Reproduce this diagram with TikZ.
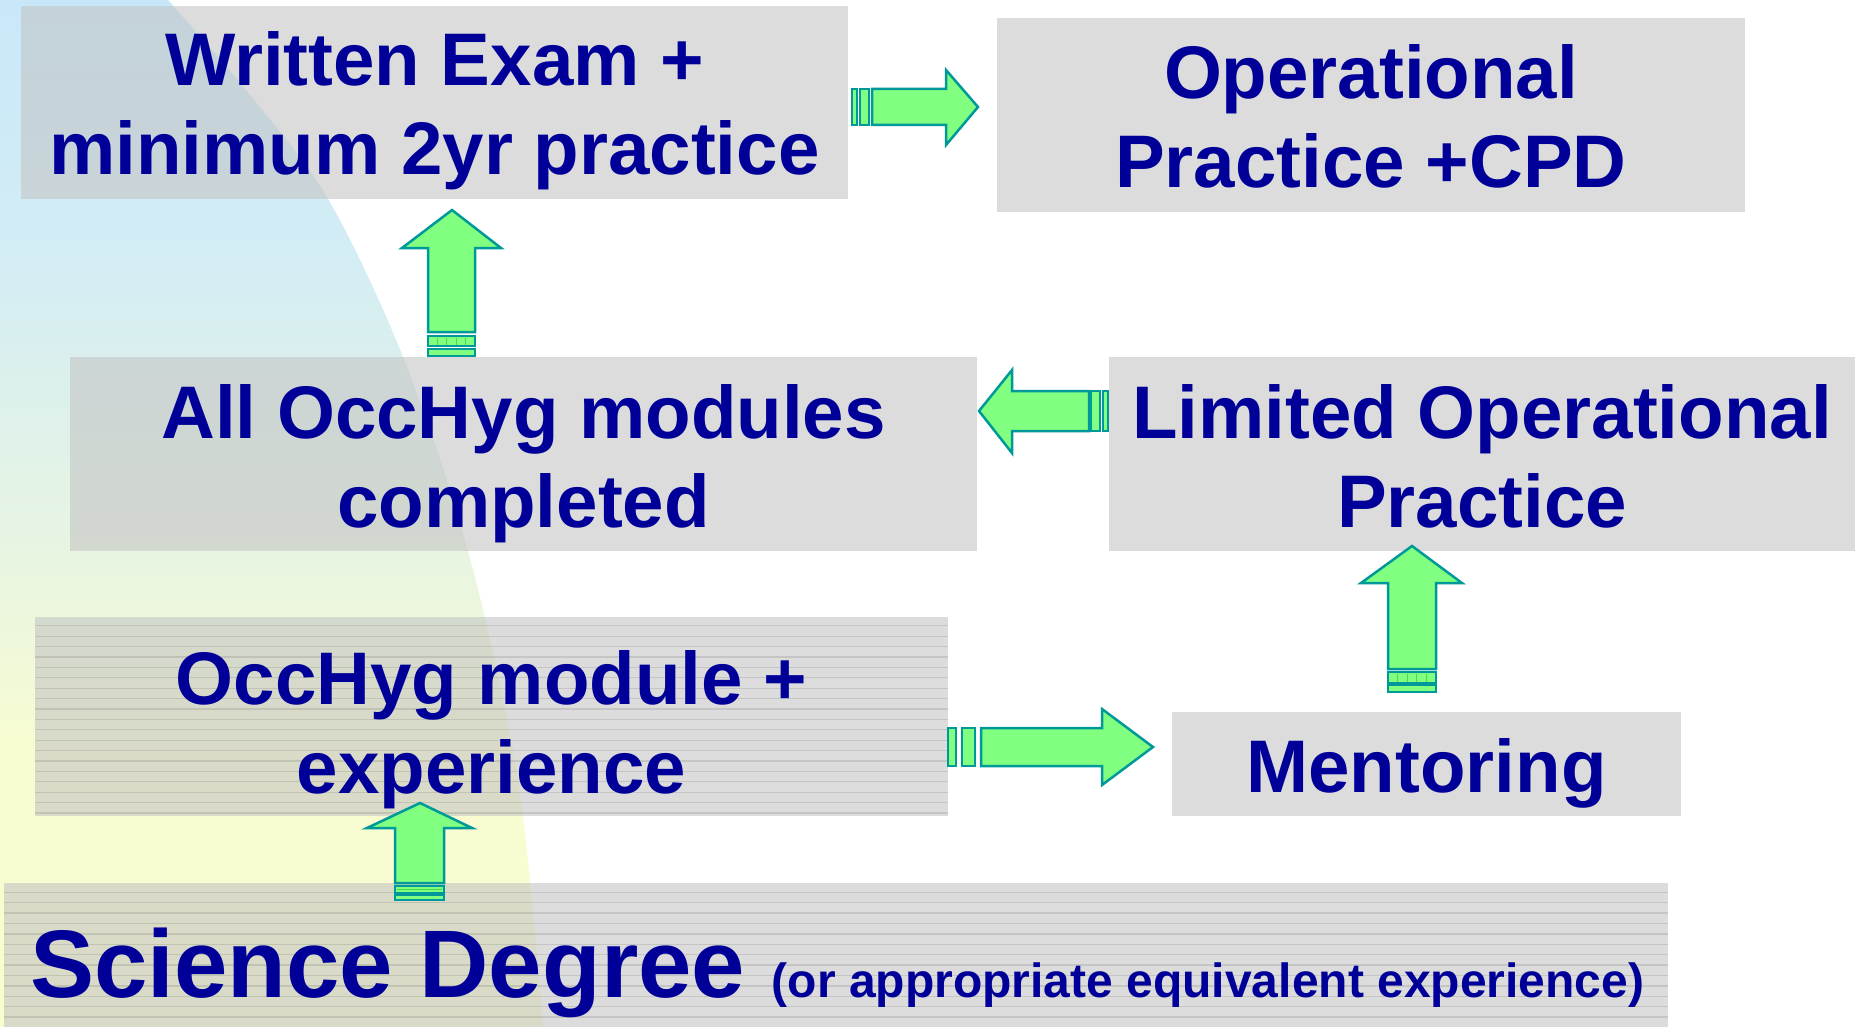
\documentclass[tikz,border=0pt]{standalone}
\usepackage{fontspec}
\setmainfont{Liberation Sans}
\definecolor{txtblue}{RGB}{0,0,153}
\definecolor{boxg}{RGB}{194,194,194}
\definecolor{agreen}{RGB}{128,255,128}
\definecolor{ateal}{RGB}{0,153,153}
\definecolor{cellg}{RGB}{70,220,70}
\definecolor{bgY}{RGB}{248,252,208}
\definecolor{bgG}{RGB}{232,245,225}
\definecolor{bgC}{RGB}{212,237,244}
\definecolor{bgB}{RGB}{200,232,250}
\pgfdeclareverticalshading{bgshade}{100bp}{color(0bp)=(bgY); color(38bp)=(bgY); color(47.7bp)=(bgG); color(62bp)=(bgC); color(75bp)=(bgB); color(100bp)=(bgB)}
\newcommand{\tstrutx}{\rule{0pt}{60pt}}
\newcommand{\bstrutx}{\rule[-20pt]{0pt}{20pt}}
\tikzset{
  gbox/.style={rectangle, fill=boxg, fill opacity=0.56, draw=none, inner sep=0pt, anchor=north west},
  stripeln/.style={draw=black, draw opacity=0.1, line width=1.3pt},
  barrow/.style={fill=agreen, draw=ateal, line width=2.5pt, line join=miter},
  bstripe/.style={fill=agreen, draw=ateal, line width=2pt},
  cell/.style={draw=cellg, line width=0.8pt},
  txt/.style={text=txtblue, font=\fontsize{74.5}{89}\selectfont\bfseries, align=center, inner sep=0pt},
}
\begin{document}
\begin{tikzpicture}[x=1pt, y=-1pt]
\useasboundingbox (0,0) rectangle (1855,1027);
\fill[white] (0,0) rectangle (1855,1027);
% background swoosh
\path[shading=bgshade] (0,0) -- plot[smooth, tension=0.55] coordinates {(168,0) (250,95) (328,199) (403,357) (468,551) (518,780) (543,1027)} -- (0,1027) -- cycle;

% boxes
\node[gbox, minimum width=827pt, minimum height=193pt] (b1) at (21,6) {};
\node[gbox, minimum width=748pt, minimum height=194pt] (b2) at (997,18) {};
\node[gbox, minimum width=907pt, minimum height=194pt] (b3) at (70,357) {};
\node[gbox, minimum width=746pt, minimum height=194pt] (b4) at (1109,357) {};
\node[gbox, minimum width=913pt, minimum height=199pt] (b5) at (35,617) {};
\node[gbox, minimum width=509pt, minimum height=104pt] (b6) at (1172,712) {};
\node[gbox, minimum width=1664pt, minimum height=144pt] (b7) at (4,883) {};

% stripes on textured boxes
\foreach \k in {0,...,18} { \draw[stripeln] (b5.west |- 0,{625.8+10.4*\k}) -- (b5.east |- 0,{625.8+10.4*\k}); }
\foreach \k in {0,...,12} { \draw[stripeln] (b7.west |- 0,{892.3+10.4*\k}) -- (b7.east |- 0,{892.3+10.4*\k}); }

% arrow A: b1 -> b2
\draw[bstripe] (852,89) rectangle (857,125);
\draw[bstripe] (860,89) rectangle (869,125);
\draw[barrow] (872,89) -- (946,89) -- (946,70) -- (978,107) -- (946,145) -- (946,125) -- (872,125) -- cycle;

% arrow B: b3 -> b1
\draw[barrow] (428,332) -- (428,248) -- (402,248) -- (452,210) -- (501,248) -- (475,248) -- (475,332) -- cycle;
\draw[bstripe] (428,336) rectangle (475,346);
\foreach \xx in {437.4,446.8,456.2,465.6} \draw[cell] (\xx,337.5) -- (\xx,344.5);
\draw[bstripe] (428,349) rectangle (475,356);

% arrow C: b4 -> b3
\draw[barrow] (1089,391) -- (1012,391) -- (1012,370) -- (979,411) -- (1012,453) -- (1012,431) -- (1089,431) -- cycle;
\draw[bstripe] (1091,391) rectangle (1100,431);
\draw[bstripe] (1103,391) rectangle (1108,431);

% arrow D: b6 -> b4
\draw[barrow] (1388,669) -- (1388,583) -- (1361,583) -- (1412,546) -- (1462,583) -- (1436,583) -- (1436,669) -- cycle;
\draw[bstripe] (1388,672) rectangle (1436,683);
\foreach \xx in {1397.6,1407.2,1416.8,1426.4} \draw[cell] (\xx,673.5) -- (\xx,681.5);
\draw[bstripe] (1388,685) rectangle (1436,692);

% arrow E: b5 -> b6
\draw[bstripe] (948,728) rectangle (956,766);
\draw[bstripe] (962,728) rectangle (975,766);
\draw[barrow] (981,728) -- (1102,728) -- (1102,709) -- (1153,747) -- (1102,785) -- (1102,766) -- (981,766) -- cycle;

% arrow F: b7 -> b5
\draw[barrow] (395,883) -- (395,828) -- (367,828) -- (420,803) -- (472,828) -- (444,828) -- (444,883) -- cycle;
\draw[bstripe] (395,886) rectangle (444,893);
\draw[cell] (397,889.5) -- (442,889.5);
\draw[bstripe] (395,895) rectangle (444,900);

% texts
\node[txt] (t1) at (434.5,110.5) {\tstrutx Written Exam +\\minimum 2yr practice\bstrutx};
\node[txt] (t2) at (1371,123) {\tstrutx Operational\\Practice +CPD\bstrutx};
\node[txt] (t3) at (523.5,462.5) {\tstrutx All OccHyg modules\\completed\bstrutx};
\node[txt] (t4) at (1482,462.5) {\tstrutx Limited Operational\\Practice\bstrutx};
\node[txt] (t5) at (491.5,729) {\tstrutx OccHyg module +\\experience\bstrutx};
\node[txt, anchor=base] (t6) at (1426.5,792) {Mentoring};
\node[txt, anchor=base west, font=\fontsize{96}{115}\selectfont\bfseries] (t7) at (30,997) {Science Degree {\fontsize{48}{58}\selectfont(or appropriate equivalent experience)}};
\end{tikzpicture}
\end{document}
